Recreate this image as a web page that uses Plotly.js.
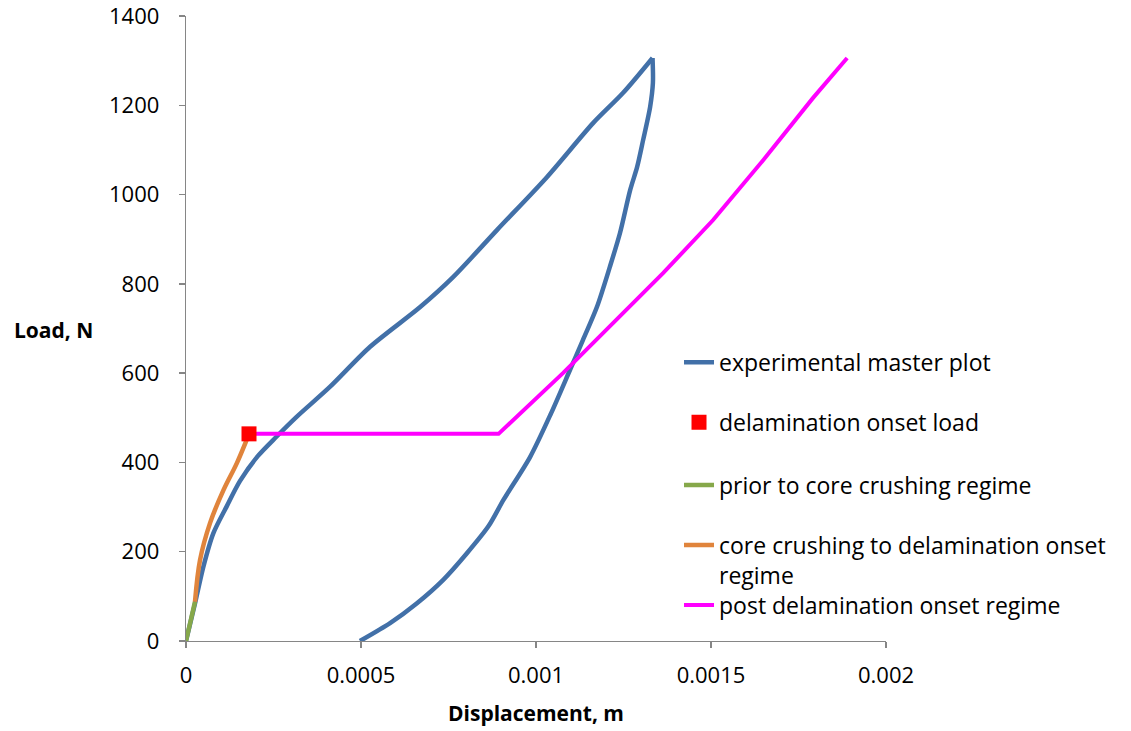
<!DOCTYPE html>
<html>
<head>
<meta charset="utf-8">
<script src="https://cdn.plot.ly/plotly-3.0.1.min.js"></script>
<style>html,body{margin:0;padding:0;background:#fff}#chart{width:1131px;height:731px}</style>
</head>
<body>
<div id="chart"></div>
<script>
// Experimental master plot: loading branch
const loadX = [0, 0.0000257, 0.0000495, 0.000078, 0.000116, 0.000154, 0.000205, 0.000259, 0.000316, 0.000411, 0.000526, 0.000669, 0.000763, 0.000889, 0.001031, 0.001163, 0.001249, 0.001333];
const loadY = [0, 84, 166, 241, 301, 358, 414, 458, 502, 569, 659, 748, 815, 921, 1039, 1160, 1228, 1306];
// Experimental master plot: unloading branch
const unloadX = [0.001333, 0.001334, 0.001326, 0.001306, 0.001289, 0.001269, 0.00124, 0.001211, 0.001174, 0.001134, 0.001097, 0.001043, 0.000983, 0.000907, 0.000865, 0.000802, 0.000735, 0.000659, 0.000583, 0.000497];
const unloadY = [1306, 1250, 1196, 1122, 1062, 1010, 914, 838, 748, 674, 607, 510, 412, 316, 258, 196, 137, 84, 40, 0];
// Delamination onset load
const onsetX = [0.00018];
const onsetY = [464];
// Prior to core crushing regime
const priorX = [0, 0.0000257];
const priorY = [0, 88];
// Core crushing to delamination onset regime
const crushX = [0.0000257, 0.00004, 0.0000686, 0.000107, 0.000145, 0.000173, 0.00018];
const crushY = [88, 181, 264, 338, 398, 450, 464];
// Post delamination onset regime
const postX = [0.00018, 0.000893, 0.001077, 0.00122, 0.001363, 0.001506, 0.001649, 0.001791, 0.001889];
const postY = [464, 464, 600, 712, 824, 943, 1077, 1216, 1306];

const names = ["experimental master plot", "delamination onset load", "prior to core crushing regime",
               "core crushing to delamination onset<br>regime", "post delamination onset regime"];
const xTicks = [0, 0.0005, 0.001, 0.0015, 0.002];
const xTickText = ["0", "0.0005", "0.001", "0.0015", "0.002"];
const yTicks = [0, 200, 400, 600, 800, 1000, 1200, 1400];

const FONT = "Open Sans, Liberation Sans, sans-serif";
const legFont = {family: FONT, size: 23, color: "#000"};
function leg(y, valign) {
  return {x: 0.7043, xanchor: "left", y: y, yanchor: "middle", bgcolor: "rgba(0,0,0,0)",
          borderwidth: 0, font: legFont, valign: valign || "middle"};
}
const BLUE = "#4270A8";

const data = [
  {x: loadX, y: loadY, mode: "lines", name: names[0], legendgroup: "exp", line: {color: BLUE, width: 4.5, shape: "spline", smoothing: 0.8}, legend: "legend"},
  {x: unloadX, y: unloadY, mode: "lines", name: names[0], legendgroup: "exp", showlegend: false, line: {color: BLUE, width: 4.5, shape: "spline", smoothing: 0.8}, legend: "legend"},
  {x: priorX, y: priorY, mode: "lines", name: names[2], line: {color: "#86A84A", width: 4.5}, legend: "legend3"},
  {x: crushX, y: crushY, mode: "lines", name: names[3], line: {color: "#E0843C", width: 4.5, shape: "spline"}, legend: "legend4"},
  {x: postX, y: postY, mode: "lines", name: names[4], line: {color: "#FF00FF", width: 4}, legend: "legend5"},
  {x: onsetX, y: onsetY, mode: "markers", name: names[1], marker: {color: "#FF0000", symbol: "square", size: 15}, legend: "legend2"}
];

const axisCommon = {showgrid: false, zeroline: false, showline: true, linecolor: "#868686", linewidth: 1.3,
                    ticks: "outside", ticklen: 6, tickcolor: "#868686", tickwidth: 1.3, ticklabeloverflow: "allow"};

const layout = {
  width: 1131, height: 731,
  margin: {l: 186, r: 245, t: 16, b: 90},
  paper_bgcolor: "#fff", plot_bgcolor: "#fff",
  showlegend: true,
  xaxis: Object.assign({}, axisCommon, {range: [0, 0.002], tickvals: xTicks, ticktext: xTickText,
          tickfont: {family: FONT, size: 22, color: "#000"},
          ticklabelstandoff: 8}),
  yaxis: Object.assign({}, axisCommon, {range: [0, 1400], tickvals: yTicks,
          tickfont: {family: FONT, size: 22, color: "#000"},
          ticklabelstandoff: 15}),
  legend: leg(0.446),
  legend2: leg(0.350),
  legend3: leg(0.2496),
  legend4: leg(0.1296, "top"),
  legend5: leg(0.0576),
  annotations: [
    {text: "<b>Load, N</b>", xref: "paper", yref: "paper", x: -0.2486, xanchor: "left", y: 0.4976, yanchor: "middle",
     showarrow: false, font: {family: FONT, size: 21, color: "#000"}},
    {text: "<b>Displacement, m</b>", xref: "paper", yref: "paper", x: 0.5, xanchor: "center", y: -0.1152, yanchor: "middle",
     showarrow: false, font: {family: FONT, size: 21, color: "#000"}}
  ]
};

Plotly.newPlot("chart", data, layout, {displayModeBar: false, staticPlot: true});
</script>
</body>
</html>
